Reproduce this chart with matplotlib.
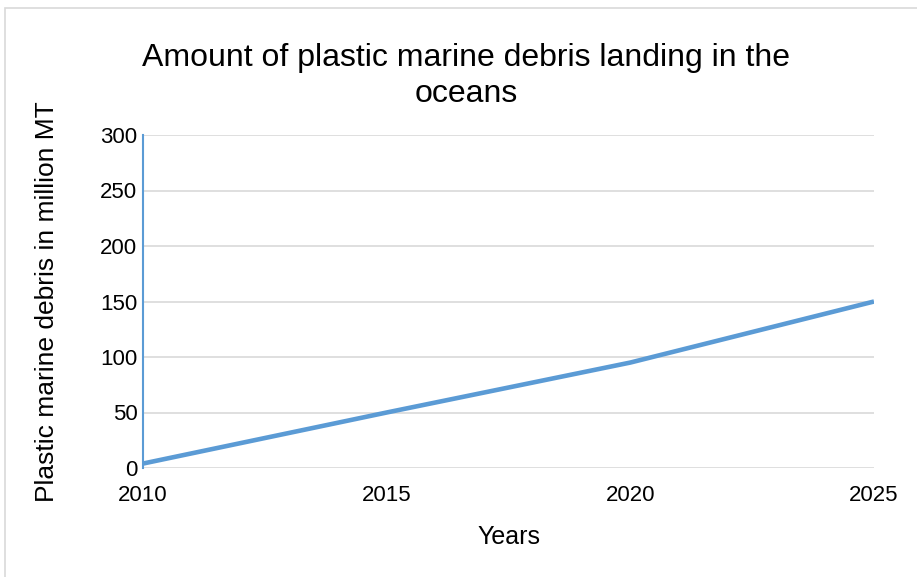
import matplotlib.pyplot as plt
from matplotlib.patches import Rectangle

years = [2010, 2015, 2020, 2025]
debris = [4, 50, 95, 150]
yticks = [0, 50, 100, 150, 200, 250, 300]

plt.rcParams['font.family'] = ['Liberation Sans', 'DejaVu Sans']

fig = plt.figure(figsize=(9.17, 5.77), dpi=100)
ax = fig.add_axes([143 / 917, 1 - 468 / 577, (874 - 143) / 917, (468 - 135) / 577])

# outer chart border
fig.patches.append(Rectangle((5 / 917, -0.1), 1.2, 1 - 8 / 577 + 0.1,
                             transform=fig.transFigure, fill=False,
                             edgecolor='#d9d9d9', linewidth=1.2))

ax.plot(years, debris, color='#5b9bd5', linewidth=3.3, solid_capstyle='butt')

ax.set_xlim(2010, 2025)
ax.set_ylim(0, 300)
ax.set_xticks(years)
ax.set_yticks(yticks)
ax.grid(axis='y', color='#d9d9d9', linewidth=1.2)
ax.set_axisbelow(True)

for s in ['top', 'right', 'bottom']:
    ax.spines[s].set_visible(False)
ax.spines['left'].set_color('#5b9bd5')
ax.spines['left'].set_linewidth(1.5)

ax.tick_params(length=0, labelsize=16, pad=4)
ax.tick_params(axis='x', pad=12)

ax.set_xlabel('Years', fontsize=18, labelpad=14)
ax.set_ylabel('Plastic marine debris in million MT', fontsize=19, labelpad=30)

fig.text(466 / 917, 1 - 76 / 577, 'Amount of plastic marine debris landing in the\noceans',
         ha='center', va='center', fontsize=23, linespacing=1.25)

fig.savefig('out.png', dpi=100)
